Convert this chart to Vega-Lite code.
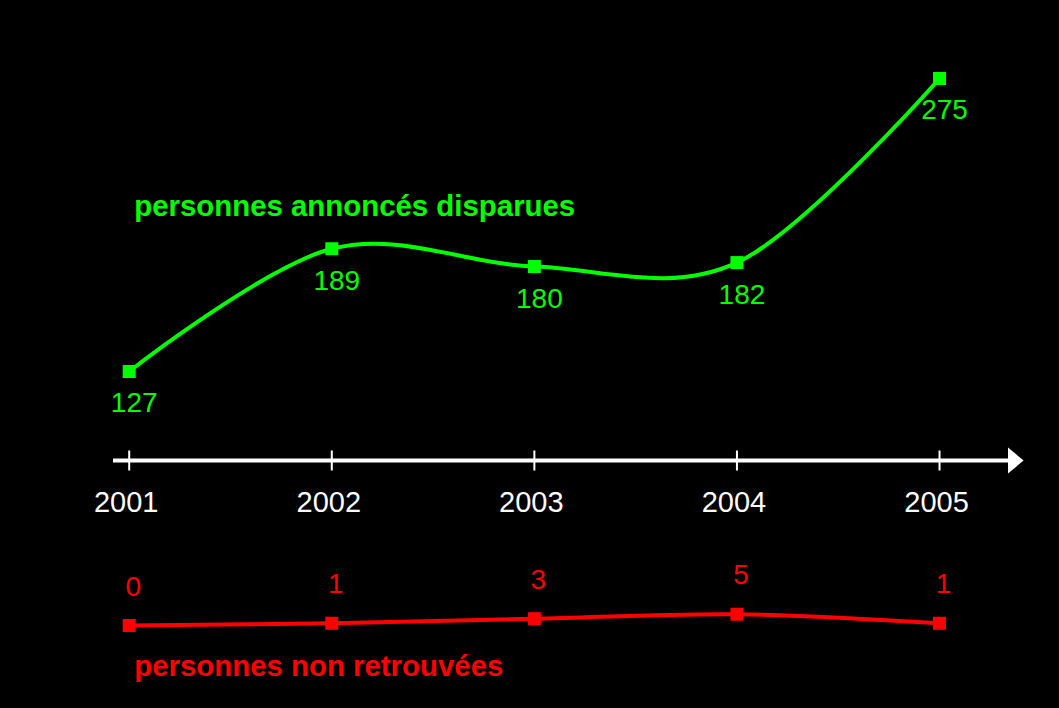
{
  "$schema": "https://vega.github.io/schema/vega-lite/v6.json",
  "autosize": "none",
  "width": 895,
  "height": 708,
  "padding": {"left": 113, "top": 0, "right": 51, "bottom": 0},
  "background": "black",
  "config": {"view": {"stroke": null}, "text": {"font": "Liberation Sans"}},
  "data": {
    "values": [
      {"annee": 2001, "serie": "disparues", "n": 127},
      {"annee": 2002, "serie": "disparues", "n": 189},
      {"annee": 2003, "serie": "disparues", "n": 180},
      {"annee": 2004, "serie": "disparues", "n": 182},
      {"annee": 2005, "serie": "disparues", "n": 275},
      {"annee": 2001, "serie": "non_retrouvees", "n": 0},
      {"annee": 2002, "serie": "non_retrouvees", "n": 1},
      {"annee": 2003, "serie": "non_retrouvees", "n": 3},
      {"annee": 2004, "serie": "non_retrouvees", "n": 5},
      {"annee": 2005, "serie": "non_retrouvees", "n": 1}
    ]
  },
  "layer": [
    {
      "layer": [
        {
          "transform": [{"filter": "datum.serie === 'disparues'"}],
          "mark": {"type": "line", "color": "#00ff00", "strokeWidth": 4, "interpolate": "cardinal", "tension": 0},
          "encoding": {
            "x": {"field": "annee", "type": "quantitative", "scale": {"domain": [2000.92, 2005.338], "nice": false, "zero": false}, "axis": null},
            "y": {"field": "n", "type": "quantitative", "scale": {"domain": [-42.98, 314.65], "nice": false, "zero": false}, "axis": null}
          }
        },
        {
          "transform": [{"filter": "datum.serie === 'disparues'"}],
          "mark": {"type": "point", "shape": "square", "filled": true, "size": 169, "color": "#00ff00", "opacity": 1},
          "encoding": {
            "x": {"field": "annee", "type": "quantitative", "scale": {"domain": [2000.92, 2005.338], "nice": false, "zero": false}, "axis": null},
            "y": {"field": "n", "type": "quantitative", "scale": {"domain": [-42.98, 314.65], "nice": false, "zero": false}, "axis": null}
          }
        },
        {
          "transform": [{"filter": "datum.serie === 'disparues'"}],
          "mark": {"type": "text", "color": "#00ff00", "fontSize": 28, "dx": 5, "dy": 41, "baseline": "alphabetic", "align": "center", "font": "Liberation Sans"},
          "encoding": {
            "x": {"field": "annee", "type": "quantitative", "scale": {"domain": [2000.92, 2005.338], "nice": false, "zero": false}, "axis": null},
            "y": {"field": "n", "type": "quantitative", "scale": {"domain": [-42.98, 314.65], "nice": false, "zero": false}, "axis": null},
            "text": {"field": "n", "type": "quantitative"}
          }
        },
        {
          "transform": [{"filter": "datum.serie === 'disparues' && datum.annee === 2001"}],
          "mark": {"type": "text", "color": "#00ff00", "fontSize": 29.4, "fontWeight": "bold", "dx": 5, "dy": -155.5, "baseline": "alphabetic", "align": "left", "font": "Liberation Sans"},
          "encoding": {
            "x": {"field": "annee", "type": "quantitative", "scale": {"domain": [2000.92, 2005.338], "nice": false, "zero": false}, "axis": null},
            "y": {"field": "n", "type": "quantitative", "scale": {"domain": [-42.98, 314.65], "nice": false, "zero": false}, "axis": null},
            "text": {"value": "personnes annoncés disparues"}
          }
        },
        {
          "data": {"values": [{}]},
          "mark": {"type": "rule", "color": "white", "strokeWidth": 4},
          "encoding": {
            "y": {"datum": 82.04, "type": "quantitative", "scale": {"domain": [-42.98, 314.65], "nice": false, "zero": false}, "axis": null}
          }
        },
        {
          "transform": [{"filter": "datum.serie === 'disparues'"}],
          "mark": {"type": "point", "shape": "M0,-1L0,1", "filled": false, "size": 400, "color": "white", "strokeWidth": 2, "opacity": 1},
          "encoding": {
            "x": {"field": "annee", "type": "quantitative", "scale": {"domain": [2000.92, 2005.338], "nice": false, "zero": false}, "axis": null},
            "y": {"datum": 82.04, "type": "quantitative", "scale": {"domain": [-42.98, 314.65], "nice": false, "zero": false}, "axis": null}
          }
        },
        {
          "transform": [{"filter": "datum.serie === 'disparues'"}],
          "mark": {"type": "text", "color": "white", "fontSize": 29, "dx": -3, "dy": 51.2, "baseline": "alphabetic", "align": "center", "font": "Liberation Sans"},
          "encoding": {
            "x": {"field": "annee", "type": "quantitative", "scale": {"domain": [2000.92, 2005.338], "nice": false, "zero": false}, "axis": null},
            "y": {"datum": 82.04, "type": "quantitative", "scale": {"domain": [-42.98, 314.65], "nice": false, "zero": false}, "axis": null},
            "text": {"field": "annee", "type": "quantitative", "format": "d"}
          }
        },
        {
          "data": {"values": [{}]},
          "mark": {"type": "point", "shape": "M0,-1L1.2,0L0,1Z", "filled": true, "size": 676, "color": "white", "opacity": 1},
          "encoding": {
            "x": {"value": "width"},
            "y": {"datum": 82.04, "type": "quantitative", "scale": {"domain": [-42.98, 314.65], "nice": false, "zero": false}, "axis": null}
          }
        }
      ]
    },
    {
      "layer": [
        {
          "transform": [{"filter": "datum.serie === 'non_retrouvees'"}],
          "mark": {"type": "line", "color": "#ff0000", "strokeWidth": 4, "interpolate": "cardinal", "tension": 0},
          "encoding": {
            "x": {"field": "annee", "type": "quantitative", "scale": {"domain": [2000.92, 2005.338], "nice": false, "zero": false}, "axis": null},
            "y": {"field": "n", "type": "quantitative", "scale": {"domain": [-36.5, 276.77], "nice": false, "zero": false}, "axis": null}
          }
        },
        {
          "transform": [{"filter": "datum.serie === 'non_retrouvees'"}],
          "mark": {"type": "point", "shape": "square", "filled": true, "size": 169, "color": "#ff0000", "opacity": 1},
          "encoding": {
            "x": {"field": "annee", "type": "quantitative", "scale": {"domain": [2000.92, 2005.338], "nice": false, "zero": false}, "axis": null},
            "y": {"field": "n", "type": "quantitative", "scale": {"domain": [-36.5, 276.77], "nice": false, "zero": false}, "axis": null}
          }
        },
        {
          "transform": [{"filter": "datum.serie === 'non_retrouvees'"}],
          "mark": {"type": "text", "color": "#ff0000", "fontSize": 28, "dx": 4, "dy": -30, "baseline": "alphabetic", "align": "center", "font": "Liberation Sans"},
          "encoding": {
            "x": {"field": "annee", "type": "quantitative", "scale": {"domain": [2000.92, 2005.338], "nice": false, "zero": false}, "axis": null},
            "y": {"field": "n", "type": "quantitative", "scale": {"domain": [-36.5, 276.77], "nice": false, "zero": false}, "axis": null},
            "text": {"field": "n", "type": "quantitative"}
          }
        },
        {
          "transform": [{"filter": "datum.serie === 'non_retrouvees' && datum.annee === 2001"}],
          "mark": {"type": "text", "color": "#ff0000", "fontSize": 29.4, "fontWeight": "bold", "dx": 5, "dy": 50.5, "baseline": "alphabetic", "align": "left", "font": "Liberation Sans"},
          "encoding": {
            "x": {"field": "annee", "type": "quantitative", "scale": {"domain": [2000.92, 2005.338], "nice": false, "zero": false}, "axis": null},
            "y": {"field": "n", "type": "quantitative", "scale": {"domain": [-36.5, 276.77], "nice": false, "zero": false}, "axis": null},
            "text": {"value": "personnes non retrouvées"}
          }
        }
      ]
    }
  ],
  "resolve": {"scale": {"y": "independent"}}
}
